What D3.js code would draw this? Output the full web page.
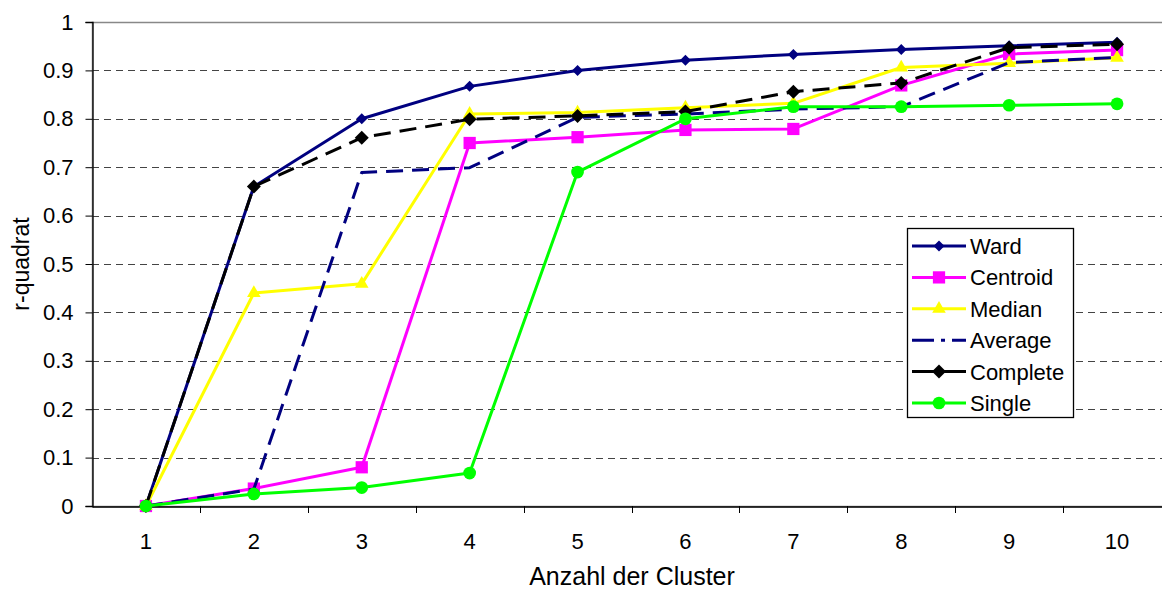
<!DOCTYPE html>
<html><head><meta charset="utf-8">
<script src="https://cdn.jsdelivr.net/npm/d3@7"></script>
<style>body{margin:0;background:#fff;}svg{display:block;font-family:"Liberation Sans",Arial,sans-serif;}</style>
</head><body><svg id="c" width="1162" height="590"></svg>
<script>
const categories = [1,2,3,4,5,6,7,8,9,10];
const yTicks = [0,0.1,0.2,0.3,0.4,0.5,0.6,0.7,0.8,0.9,1];
const ward     = [0,0.660,0.800,0.867,0.900,0.921,0.933,0.943,0.951,0.958];
const centroid = [0,0.036,0.080,0.750,0.762,0.777,0.779,0.869,0.934,0.942];
const median   = [0,0.440,0.459,0.810,0.813,0.823,0.832,0.906,0.915,0.926];
const average  = [0,0.035,0.689,0.699,0.803,0.810,0.820,0.825,0.916,0.927];
const complete = [0,0.660,0.761,0.799,0.806,0.815,0.856,0.874,0.947,0.954];
const single   = [0,0.025,0.038,0.068,0.690,0.800,0.825,0.825,0.828,0.831];
const seriesNames = ["Ward","Centroid","Median","Average","Complete","Single"];

const series = [
  {name:seriesNames[0], values:ward, color:"#000080", dash:null, marker:"diamond", size:5.5, mcolor:"#000080"},
  {name:seriesNames[1], values:centroid, color:"#FF00FF", dash:null, marker:"square", size:150, mcolor:"#FF00FF"},
  {name:seriesNames[2], values:median, color:"#FFFF00", dash:null, marker:"triangle", size:80, mcolor:"#FFFF00"},
  {name:seriesNames[3], values:average, color:"#000080", dash:"17,9", marker:null, legendDash:"22,7,4,7,30"},
  {name:seriesNames[4], values:complete, color:"#000000", dash:"17,9", marker:"diamond", size:7, mcolor:"#000000", legendDash:null},
  {name:seriesNames[5], values:single, color:"#00FF00", dash:null, marker:"circle", size:127, mcolor:"#00FF00"}
];

const svg = d3.select("#c");
const L=92, R=1171, T=22, B=506;
const x = d3.scaleBand().domain(categories).range([L,R]);
const y = d3.scaleLinear().domain([0,1]).range([B,T]);
const FONT = "Liberation Sans, Arial, sans-serif";

// grid
svg.append("g").selectAll("line").data(yTicks.filter(d=>d>0 && d<1)).join("line")
  .attr("x1",L).attr("x2",R).attr("y1",d=>Math.round(y(d))+0.5).attr("y2",d=>Math.round(y(d))+0.5)
  .attr("stroke","#444").attr("stroke-width",1).attr("stroke-dasharray","7,5");
// plot border
svg.append("rect").attr("x",L+0.5).attr("y",T+0.5).attr("width",R-L).attr("height",B-T)
  .attr("fill","none").attr("stroke","#888").attr("stroke-width",1.5);

// axes
const yAxis = d3.axisLeft(y).tickValues(yTicks).tickSize(7).tickFormat(d=>d===0?"0":d===1?"1":d3.format(".1f")(d));
const gy = svg.append("g").attr("transform",`translate(${L+0.5},0)`).call(yAxis);
gy.select(".domain").attr("stroke","#000").attr("stroke-width",1.3);
gy.selectAll(".tick line").attr("stroke","#000");
gy.selectAll(".tick text").attr("font-size",22).attr("font-family",FONT).attr("x",-19).attr("fill","#000");

const xAxis = d3.axisBottom(x).tickSize(0);
const gx = svg.append("g").attr("transform",`translate(0,${B+0.5})`).call(xAxis);
gx.select(".domain").attr("stroke","#000").attr("stroke-width",1.3);
gx.selectAll(".tick text").attr("font-size",22).attr("font-family",FONT).attr("dy",0).attr("y",42).attr("fill","#000");
// category boundary ticks
svg.append("g").selectAll("line").data(categories.slice(1)).join("line")
  .attr("x1",d=>Math.round(x(d))+0.5).attr("x2",d=>Math.round(x(d))+0.5).attr("y1",B).attr("y2",B+7)
  .attr("stroke","#000").attr("stroke-width",1);

// axis titles
svg.append("text").attr("x",632).attr("y",585).attr("text-anchor","middle")
  .attr("font-size",25).text("Anzahl der Cluster");
svg.append("text").attr("transform",`translate(29,264) rotate(-90)`).attr("text-anchor","middle")
  .attr("font-size",23).text("r-quadrat");

const cx = d => x(d)+x.bandwidth()/2;
const symType = {square:d3.symbolSquare, triangle:d3.symbolTriangle, circle:d3.symbolCircle};
function markerPath(s){
  if(s.marker==="diamond"){ const h=s.size; return `M0,${-h}L${h},0L0,${h}L${-h},0Z`; }
  return d3.symbol().type(symType[s.marker]).size(s.size)();
}

const line = d3.line().x((d,i)=>cx(categories[i])).y(d=>y(d));
series.forEach(s=>{
  const g = svg.append("g");
  g.append("path").attr("d",line(s.values)).attr("fill","none").attr("stroke",s.color)
   .attr("stroke-width",3).attr("stroke-dasharray",s.dash).attr("stroke-linejoin","round");
  if(s.marker){
    g.selectAll("path.m").data(s.values).join("path").attr("class","m")
     .attr("transform",(d,i)=>`translate(${cx(categories[i])},${y(d)})`)
     .attr("d",markerPath(s)).attr("fill",s.mcolor);
  }
});

// legend
const lg = svg.append("g");
lg.append("rect").attr("x",907.5).attr("y",228.5).attr("width",166).attr("height",189)
  .attr("fill","#fff").attr("stroke","#000").attr("stroke-width",1.3);
series.forEach((s,i)=>{
  const yy = 246 + i*31.4;
  lg.append("line").attr("x1",912).attr("x2",966).attr("y1",yy).attr("y2",yy)
    .attr("stroke",s.color).attr("stroke-width",3)
    .attr("stroke-dasharray", s.legendDash!==undefined ? s.legendDash : null);
  if(s.marker){
    lg.append("path").attr("transform",`translate(939,${yy})`)
      .attr("d",markerPath(s)).attr("fill",s.mcolor);
  }
  lg.append("text").attr("x",970).attr("y",yy+8).attr("font-size",22).text(s.name);
});
</script></body></html>
